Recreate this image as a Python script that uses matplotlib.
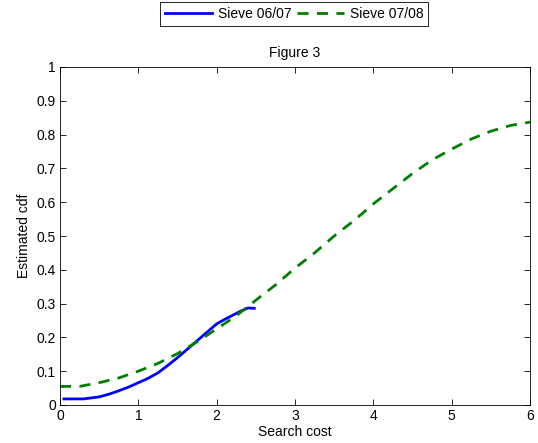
import matplotlib

matplotlib.use("Agg")
import matplotlib.pyplot as plt
from matplotlib.ticker import FuncFormatter

plt.rcParams["font.family"] = ["Liberation Sans", "DejaVu Sans"]
plt.rcParams["font.size"] = 10

# Sieve 06/07 (blue, solid)
x_0607 = [0.05, 0.3, 0.5, 0.625, 0.75, 0.875, 1.0, 1.125, 1.25, 1.375, 1.5, 1.625,
          1.75, 1.875, 2.0, 2.1, 2.2, 2.3, 2.4, 2.48]
y_0607 = [0.018, 0.018, 0.024, 0.032, 0.042, 0.053, 0.066, 0.079, 0.095, 0.117, 0.14,
          0.165, 0.19, 0.215, 0.24, 0.253, 0.265, 0.277, 0.287, 0.286]

# Sieve 07/08 (green, dashed)
x_0708 = [0.0, 0.25, 0.5, 0.75, 1.0, 1.25, 1.5, 1.75, 2.0, 2.25, 2.5, 2.75, 3.0,
          3.25, 3.5, 3.75, 4.0, 4.25, 4.5, 4.75, 5.0, 5.25, 5.5, 5.75, 6.0]
y_0708 = [0.055, 0.055, 0.066, 0.08, 0.10, 0.123, 0.152, 0.187, 0.225, 0.264, 0.31,
          0.355, 0.405, 0.45, 0.50, 0.545, 0.595, 0.64, 0.685, 0.725, 0.757, 0.787,
          0.81, 0.827, 0.837]

fig = plt.figure(figsize=(5.38, 4.43), dpi=100)
ax = fig.add_axes([60 / 538, 38 / 443, 470 / 538, 338 / 443])

ax.plot(x_0607, y_0607, color="#0000ff", lw=2, label="Sieve 06/07")
ax.plot(x_0708, y_0708, color="#007f00", lw=2, ls=(0, (4, 3)), label="Sieve 07/08")

ax.set_xlim(0, 6)
ax.set_ylim(0, 1)
ax.set_xticks(range(7))
ax.set_yticks([i / 10 for i in range(11)])
ax.yaxis.set_major_formatter(FuncFormatter(lambda v, _: f"{v:g}"))
ax.tick_params(direction="in", top=True, right=True, length=4, width=0.6, pad=3)
for s in ax.spines.values():
    s.set_linewidth(0.6)

ax.set_xlabel("Search cost", labelpad=1)
ax.set_ylabel("Estimated cdf", labelpad=4)
ax.set_title("Figure 3", fontsize=10, pad=7)

leg = fig.legend(loc="upper center", bbox_to_anchor=(294 / 538, 1 - 1 / 443), ncol=2,
                 frameon=True, fancybox=False, edgecolor="black", handlelength=3.4,
                 columnspacing=0.4, handletextpad=0.4, borderpad=0.35,
                 borderaxespad=0.1, framealpha=1)
leg.get_frame().set_linewidth(0.6)

fig.savefig("out.png", dpi=100, facecolor="white")
